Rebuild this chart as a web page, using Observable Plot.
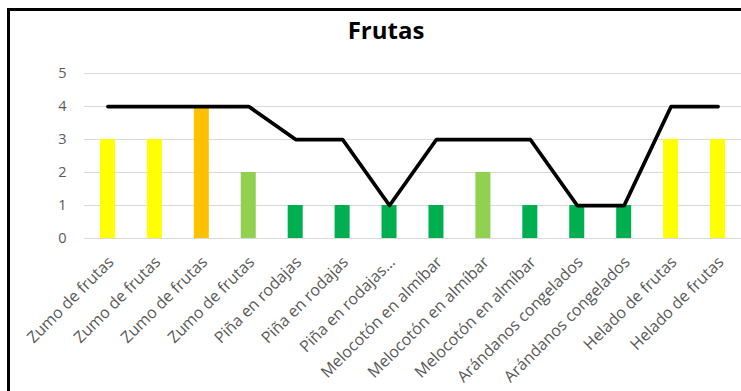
<!DOCTYPE html>
<html>
<head>
<meta charset="utf-8">
<script src="https://cdn.jsdelivr.net/npm/d3@7"></script>
<script src="https://cdn.jsdelivr.net/npm/@observablehq/plot@0.6"></script>
<style>
  body { margin: 0; background: #fff; overflow: hidden; width: 741px; height: 391px; position: relative; }
  #frame { position: absolute; left: 7px; top: 8px; width: 820px; height: 500px;
           border-left: 3.5px solid #000; border-top: 3.5px solid #000; box-sizing: border-box; }
  #title { position: absolute; left: 0; top: 13px; width: 772px; text-align: center;
           font: bold 24px "Open Sans", sans-serif; color: #000; }
  #chart { position: absolute; left: 0; top: 0; }
  #chart g[aria-label="y-axis tick label"] text { font-size: 14.5px; }
</style>
</head>
<body>
<div id="frame"></div>
<div id="title">Frutas</div>
<div id="chart"></div>
<script>
// Products along the x axis (several appear more than once)
const categories = [
  "Zumo de frutas", "Zumo de frutas", "Zumo de frutas", "Zumo de frutas",
  "Piña en rodajas", "Piña en rodajas", "Piña en rodajas…",
  "Melocotón en almíbar", "Melocotón en almíbar", "Melocotón en almíbar",
  "Arándanos congelados", "Arándanos congelados",
  "Helado de frutas", "Helado de frutas"
];
// Column series
const barValues = [3, 3, 4, 2, 1, 1, 1, 1, 2, 1, 1, 1, 3, 3];
// Column colours, one per product
const barColors = [
  "#FFFF00", "#FFFF00", "#FFC000", "#92D050",
  "#00B050", "#00B050", "#00B050",
  "#00B050", "#92D050", "#00B050",
  "#00B050", "#00B050",
  "#FFFF00", "#FFFF00"
];
// Line series
const lineValues = [4, 4, 4, 4, 3, 3, 1, 3, 3, 3, 1, 1, 4, 4];
// Value axis ticks
const yTicks = [0, 1, 2, 3, 4, 5];

const rows = categories.map((label, i) => ({
  i, label, bar: barValues[i], line: lineValues[i], color: barColors[i]
}));

const chart = Plot.plot({
  width: 741,
  height: 391,
  marginLeft: 84,
  marginRight: 0,
  marginTop: 73,
  marginBottom: 153,
  style: { fontFamily: "'Open Sans', sans-serif", fontSize: "16px", color: "#595959", background: "transparent" },
  x: {
    type: "band",
    domain: d3.range(categories.length),
    paddingInner: 0.68,
    paddingOuter: 0.34,
    round: false,
    tickFormat: i => categories[i],
    tickRotate: -45,
    tickSize: 0,
    tickPadding: 21,
    label: null
  },
  y: { domain: [0, 5], ticks: yTicks, tickFormat: d => String(d), tickSize: 0, tickPadding: 18, label: null },
  color: { type: "identity" },
  marks: [
    Plot.ruleY(yTicks, { stroke: "#d9d9d9", strokeWidth: 1 }),
    Plot.barY(rows, { x: "i", y: "bar", fill: "color" }),
    Plot.lineY(rows, { x: "i", y: "line", stroke: "#000", strokeWidth: 3.75,
                       strokeLinejoin: "round", strokeLinecap: "round" })
  ]
});

// Nudge the slanted category labels a little to the right of their ticks
const xLabels = chart.querySelector('g[aria-label="x-axis tick label"]');
if (xLabels) xLabels.setAttribute("transform", `${xLabels.getAttribute("transform") || ""} translate(3,0)`);

document.getElementById("chart").appendChild(chart);
</script>
</body>
</html>
